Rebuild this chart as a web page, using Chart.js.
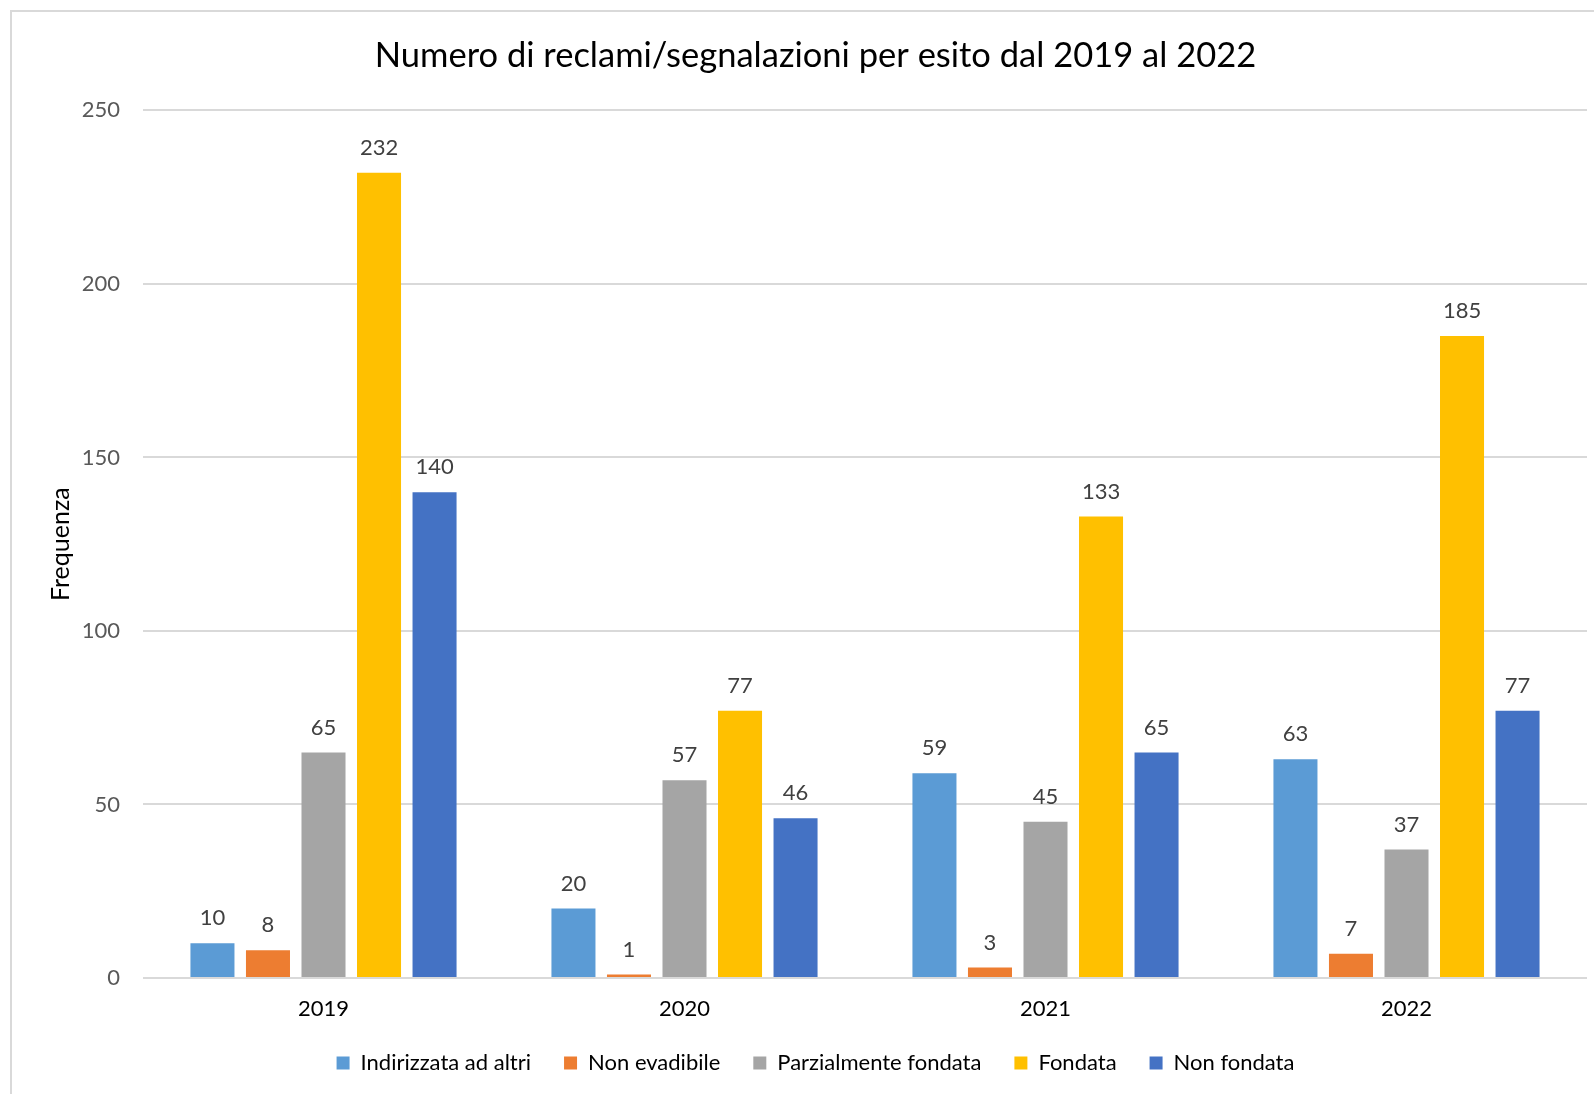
<!DOCTYPE html>
<html>
<head>
<meta charset="utf-8">
<script src="https://cdn.jsdelivr.net/npm/chart.js@4"></script>
<style>
  html, body { margin: 0; padding: 0; background: #fff; }
  #wrap { width: 1594px; height: 1094px; position: relative; }
</style>
</head>
<body>
<div id="wrap"><canvas id="bar-chart-canvas"></canvas></div>
<script>
// categorie e valori
const anni = ['2019', '2020', '2021', '2022'];
const indirizzataAdAltri = [10, 20, 59, 63];
const nonEvadibile = [8, 1, 3, 7];
const parzialmenteFondata = [65, 57, 45, 37];
const fondata = [232, 77, 133, 185];
const nonFondata = [140, 46, 65, 77];
const yTicks = [0, 50, 100, 150, 200, 250];

const FONT = "'Lato', 'Liberation Sans', sans-serif";

// bordo grigio del riquadro e etichette dati sopra le barre
const chartDecor = {
    id: 'chartDecor',
    beforeDraw(chart) {
        let c = chart.ctx;
        c.save();
        c.fillStyle = '#fff';
        c.fillRect(0, 0, chart.width, chart.height);
        c.strokeStyle = '#d9d9d9';
        c.lineWidth = 2;
        c.beginPath();
        c.moveTo(11, chart.height);
        c.lineTo(11, 11);
        c.lineTo(chart.width, 11);
        c.stroke();
        c.restore();
    },
    afterDatasetsDraw(chart) {
        let c = chart.ctx;
        c.save();
        c.font = '22px ' + FONT;
        c.fillStyle = '#404040';
        c.textAlign = 'center';
        c.textBaseline = 'middle';
        chart.data.datasets.forEach((ds, i) => {
            chart.getDatasetMeta(i).data.forEach((bar, j) => {
                c.fillText(ds.data[j], bar.x, bar.y - 25);
            });
        });
        c.restore();
    }
};

function serie(label, data, colore) {
    return {
        label: label,
        data: data,
        backgroundColor: colore,
        borderWidth: 0,
        categoryPercentage: 0.769,
        barPercentage: 0.793
    };
}

var ctx = document.getElementById('bar-chart-canvas').getContext('2d');
var myChart = new Chart(ctx, {
    type: 'bar',
    data: {
        labels: anni,
        datasets: [
            serie('Indirizzata ad altri', indirizzataAdAltri, '#5B9BD5'),
            serie('Non evadibile', nonEvadibile, '#ED7D31'),
            serie('Parzialmente fondata', parzialmenteFondata, '#A5A5A5'),
            serie('Fondata', fondata, '#FFC000'),
            serie('Non fondata', nonFondata, '#4472C4')
        ]
    },
    options: {
        responsive: true,
        maintainAspectRatio: false,
        animation: false,
        layout: { padding: { left: 44, right: 7, top: 0, bottom: 10 } },
        plugins: {
            title: {
                display: true,
                text: 'Numero di reclami/segnalazioni per esito dal 2019 al 2022',
                font: { family: FONT, size: 34.5, weight: 'normal' },
                color: '#000',
                padding: { top: 35, bottom: 34 }
            },
            legend: {
                display: true,
                position: 'bottom',
                labels: {
                    font: { family: FONT, size: 22 },
                    color: '#000',
                    boxWidth: 13,
                    boxHeight: 13,
                    padding: 33
                }
            },
            tooltip: { enabled: false }
        },
        scales: {
            x: {
                afterFit(scale) {
                    scale.height = 41;
                },
                grid: { display: false, drawTicks: false },
                border: { display: false },
                ticks: {
                    font: { family: FONT, size: 22 },
                    color: '#000',
                    padding: 18
                }
            },
            y: {
                min: 0,
                max: 250,
                afterBuildTicks(scale) {
                    scale.ticks = yTicks.map(v => ({ value: v }));
                },
                afterFit(scale) {
                    scale.width = 99;
                },
                grid: { color: '#d9d9d9', lineWidth: 2, drawTicks: false },
                border: { display: false },
                ticks: {
                    font: { family: FONT, size: 22 },
                    color: '#595959',
                    padding: 23
                },
                title: {
                    display: true,
                    text: 'Frequenza',
                    font: { family: FONT, size: 25 },
                    color: '#000',
                    padding: { top: 2, bottom: 0 }
                }
            }
        }
    },
    plugins: [chartDecor]
});
</script>
</body>
</html>
